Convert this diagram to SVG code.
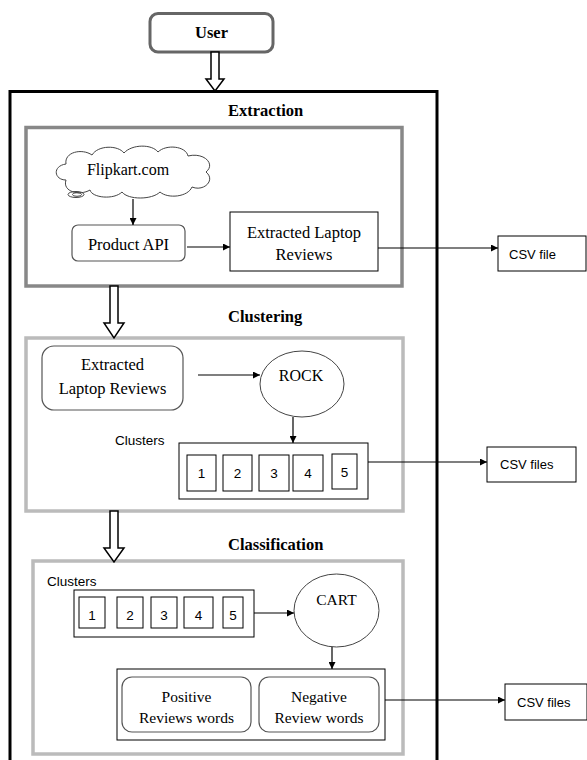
<svg xmlns="http://www.w3.org/2000/svg" width="587" height="760" viewBox="0 0 587 760">
<style>
.serif{font-family:"Liberation Serif","Times New Roman",serif;fill:#000}
.title{font-family:"Liberation Serif","Times New Roman",serif;font-weight:bold;font-size:16.5px;fill:#000}
.sans{font-family:"Liberation Sans",Arial,sans-serif;fill:#000}
.box{fill:#fff;stroke:#000;stroke-width:1}
.rbox{fill:#fff;stroke:#555;stroke-width:1.2}
.num{font-family:"Liberation Sans",Arial,sans-serif;font-size:13.5px;text-anchor:middle;fill:#000}
.conn{stroke:#000;stroke-width:1.2;fill:none;marker-end:url(#ah)}
.block{fill:#fff;stroke:#000;stroke-width:1.5}
</style>
<defs>
<marker id="ah" viewBox="0 0 10 10" refX="10" refY="5" markerWidth="7" markerHeight="7" markerUnits="userSpaceOnUse" orient="auto">
<path d="M0,0 L10,5 L0,10 Z" fill="#000"/>
</marker>
</defs>
<rect width="587" height="760" fill="#fff"/>

<g id="user">
<rect x="150" y="13.5" width="123" height="38.5" rx="8" fill="#fff" stroke="#666" stroke-width="3"/>
<text class="title" x="211.5" y="38" text-anchor="middle" font-size="16">User</text>
</g>

<g id="main">
<rect x="10" y="91.5" width="427" height="690" fill="none" stroke="#000" stroke-width="3"/>
</g>

<g id="extraction">
<rect x="26" y="127.5" width="376" height="158.5" fill="none" stroke="#888" stroke-width="3.5"/>
<text class="title" x="228" y="116">Extraction</text>
</g>

<g id="flipkart">
<path d="M66,180 C54,180 52,166 66,164 C64,152 82,148 92,155 C98,145 118,145 124,153 C132,144 152,144 158,152 C166,144 186,146 188,156 C204,152 216,164 206,172 C216,180 204,192 192,187 C188,197 168,199 160,192 C152,200 128,200 122,192 C114,200 92,198 90,190 C80,196 62,192 66,180 Z" fill="#fff" stroke="#444" stroke-width="1"/>
<ellipse cx="76" cy="194.5" rx="8" ry="3" fill="none" stroke="#444" stroke-width="1"/>
<ellipse cx="77" cy="194.5" rx="4.5" ry="1.8" fill="none" stroke="#444" stroke-width="1"/>
<text class="serif" x="128" y="175" text-anchor="middle" font-size="16">Flipkart.com</text>
</g>

<g id="product-api">
<rect class="rbox" x="72" y="225" width="113" height="36" rx="6"/>
<text class="serif" x="128.5" y="250" text-anchor="middle" font-size="16.5">Product API</text>
</g>

<g id="extracted-reviews">
<rect class="box" x="230" y="212" width="148" height="59"/>
<text class="serif" x="304" y="238" text-anchor="middle" font-size="16.5">Extracted Laptop</text>
<text class="serif" x="304" y="260" text-anchor="middle" font-size="16.5">Reviews</text>
</g>

<g id="csv-file">
<rect class="box" x="498" y="236" width="88" height="35"/>
<text class="sans" x="509" y="259" font-size="13">CSV file</text>
</g>

<g id="clustering">
<rect x="26" y="338" width="377" height="173" fill="none" stroke="#bbb" stroke-width="3.5"/>
<text class="title" x="228" y="322">Clustering</text>
</g>

<g id="extracted-reviews-2">
<rect class="rbox" x="42" y="346" width="141" height="64" rx="12"/>
<text class="serif" x="112.5" y="370" text-anchor="middle" font-size="16.5">Extracted</text>
<text class="serif" x="112.5" y="394" text-anchor="middle" font-size="16.5">Laptop Reviews</text>
</g>

<g id="rock">
<ellipse cx="302" cy="384" rx="42" ry="33" fill="#fff" stroke="#444" stroke-width="1"/>
<text class="serif" x="301" y="381" text-anchor="middle" font-size="16">ROCK</text>
</g>

<g id="clusters-1">
<text class="sans" x="115" y="445" font-size="13.5">Clusters</text>
<rect class="box" x="179" y="443" width="189" height="56"/>
<rect class="box" x="187" y="455" width="29" height="36"/>
<rect class="box" x="223" y="455" width="29" height="36"/>
<rect class="box" x="259" y="455" width="30" height="36"/>
<rect class="box" x="293" y="455" width="30" height="36"/>
<rect class="box" x="332" y="454" width="25" height="35"/>
<text class="num" x="201.5" y="478">1</text>
<text class="num" x="237.5" y="478">2</text>
<text class="num" x="274" y="478">3</text>
<text class="num" x="308" y="478">4</text>
<text class="num" x="344.5" y="477">5</text>
</g>

<g id="csv-files-1">
<rect class="box" x="487" y="447" width="89" height="35"/>
<text class="sans" x="500" y="469" font-size="13">CSV files</text>
</g>

<g id="classification">
<rect x="33" y="561" width="370" height="193" fill="none" stroke="#bbb" stroke-width="3.5"/>
<text class="title" x="228" y="550">Classification</text>
</g>

<g id="clusters-2">
<text class="sans" x="47" y="586" font-size="13.5">Clusters</text>
<rect class="box" x="74" y="590" width="180" height="47"/>
<rect class="box" x="79" y="597" width="26" height="31"/>
<rect class="box" x="117" y="597" width="26" height="31"/>
<rect class="box" x="151" y="597" width="26" height="31"/>
<rect class="box" x="184" y="597" width="29" height="31"/>
<rect class="box" x="223" y="597" width="20" height="31"/>
<text class="num" x="92" y="620">1</text>
<text class="num" x="130" y="620">2</text>
<text class="num" x="164" y="620">3</text>
<text class="num" x="198.5" y="620">4</text>
<text class="num" x="233" y="620">5</text>
</g>

<g id="cart">
<ellipse cx="336.5" cy="610.5" rx="42.5" ry="36.5" fill="#fff" stroke="#444" stroke-width="1"/>
<text class="serif" x="336.5" y="605" text-anchor="middle" font-size="15.5">CART</text>
</g>

<g id="results">
<rect class="box" x="117" y="669" width="268" height="71"/>
<rect class="rbox" x="122" y="677" width="129" height="55" rx="10"/>
<text class="serif" x="186.5" y="702" text-anchor="middle" font-size="15.5">Positive</text>
<text class="serif" x="186.5" y="723" text-anchor="middle" font-size="15.5">Reviews words</text>
<rect class="rbox" x="259" y="677" width="120" height="55" rx="10"/>
<text class="serif" x="319" y="702" text-anchor="middle" font-size="15.5">Negative</text>
<text class="serif" x="319" y="723" text-anchor="middle" font-size="15.5">Review words</text>
</g>

<g id="csv-files-2">
<rect class="box" x="505" y="684" width="82" height="36"/>
<text class="sans" x="517" y="707" font-size="13">CSV files</text>
</g>

<g id="connectors">
<polygon class="block" points="211,52 219,52 219,79 224,79 215,91 206,79 211,79"/>
<polygon class="block" points="110,286 118,286 118,323 124,323 114,338 104,323 110,323"/>
<polygon class="block" points="110,511 118,511 118,548 124,548 114,562 104,548 110,548"/>
<line class="conn" x1="133" y1="199" x2="133" y2="225"/>
<line class="conn" x1="187" y1="247" x2="230" y2="247"/>
<line class="conn" x1="378" y1="248" x2="498" y2="248"/>
<line class="conn" x1="198" y1="375" x2="260" y2="375"/>
<line class="conn" x1="293" y1="417" x2="293" y2="443"/>
<line class="conn" x1="368" y1="462" x2="487" y2="462"/>
<line class="conn" x1="254" y1="613" x2="294" y2="613"/>
<line class="conn" x1="332" y1="647" x2="332" y2="669"/>
<line class="conn" x1="385" y1="700" x2="505" y2="700"/>
</g>
</svg>
